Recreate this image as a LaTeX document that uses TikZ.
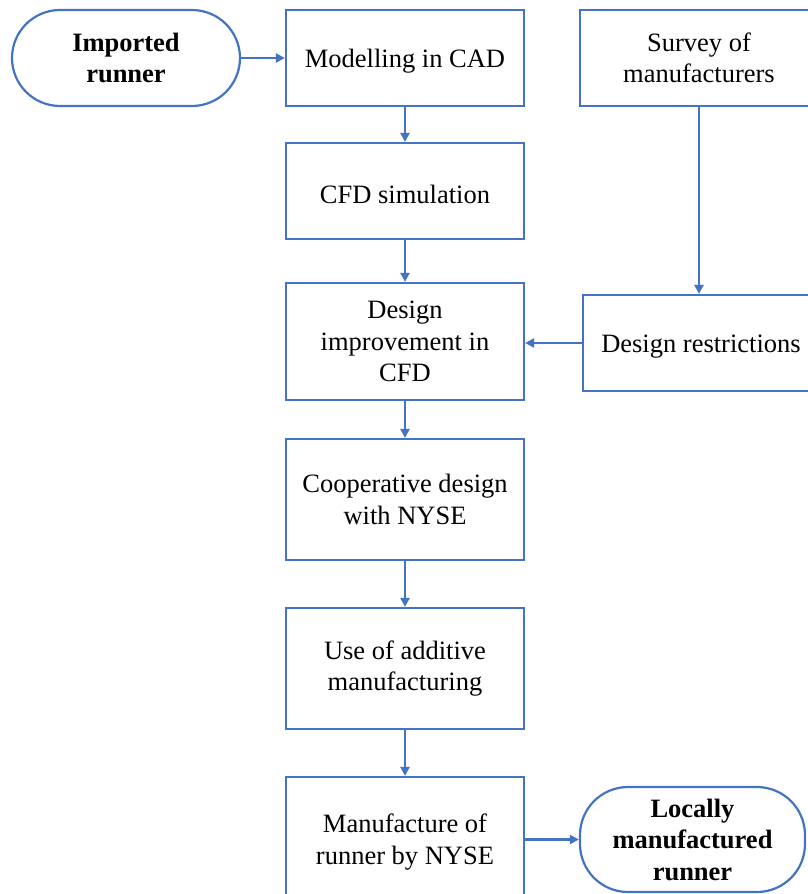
\documentclass[tikz,border=0pt]{standalone}
\usepackage{fontspec}
\setmainfont{Liberation Serif}
\usetikzlibrary{arrows.meta}
\definecolor{flowblue}{HTML}{4472C4}
\begin{document}
\begin{tikzpicture}[x=1pt,y=-1pt,
  every node/.style={font=\fontsize{26.5}{31.5}\selectfont, align=center, inner sep=0pt,
    execute at begin node={\rule{0pt}{25pt}}},
  stepbox/.style={draw=flowblue, line width=2.2pt, minimum width=238pt},
  termbox/.style={draw=flowblue, line width=2.2pt, rounded corners=48pt, font=\fontsize{26.5}{31.5}\selectfont\bfseries},
  flow/.style={draw=flowblue, line width=2.2pt, -{Triangle[length=9pt,width=9pt]}}]
\useasboundingbox (0,0) rectangle (807,894);
% terminal nodes
\node[termbox, minimum width=228pt, minimum height=96pt] (imp) at (126,58) {Imported\\runner};
\node[termbox, minimum width=225pt, minimum height=105pt] (loc) at (692.5,839.5) {Locally\\manufactured\\runner};
% process steps
\node[stepbox, minimum height=96pt] (cad) at (405,58) {Modelling in CAD};
\node[stepbox, minimum height=96pt] (sur) at (699,58) {Survey of\\manufacturers};
\node[stepbox, minimum height=96pt] (cfd) at (405,191) {CFD simulation};
\node[stepbox, minimum height=117pt] (imv) at (405,341.5) {Design\\improvement in\\CFD};
\node[stepbox, minimum width=236pt, minimum height=96pt] (res) at (701,343) {Design restrictions};
\node[stepbox, minimum height=121pt] (coop) at (405,499.5) {Cooperative design\\with NYSE};
\node[stepbox, minimum height=121pt] (add) at (405,668.5) {Use of additive\\manufacturing};
\node[stepbox, minimum height=130pt] (man) at (405,842) {Manufacture of\\runner by NYSE};
% connectors
\draw[flow] (imp.east) -- (cad.west);
\draw[flow] (cad) -- (cfd);
\draw[flow] (cfd) -- (imv);
\draw[flow] (imv) -- (coop);
\draw[flow] (coop) -- (add);
\draw[flow] (add) -- (man);
\draw[flow] (sur.south) -- (sur.south |- res.north);
\draw[flow] (res.west) -- (res.west -| imv.east);
\draw[flow] (man.east |- loc.west) -- (loc.west);
\end{tikzpicture}
\end{document}
